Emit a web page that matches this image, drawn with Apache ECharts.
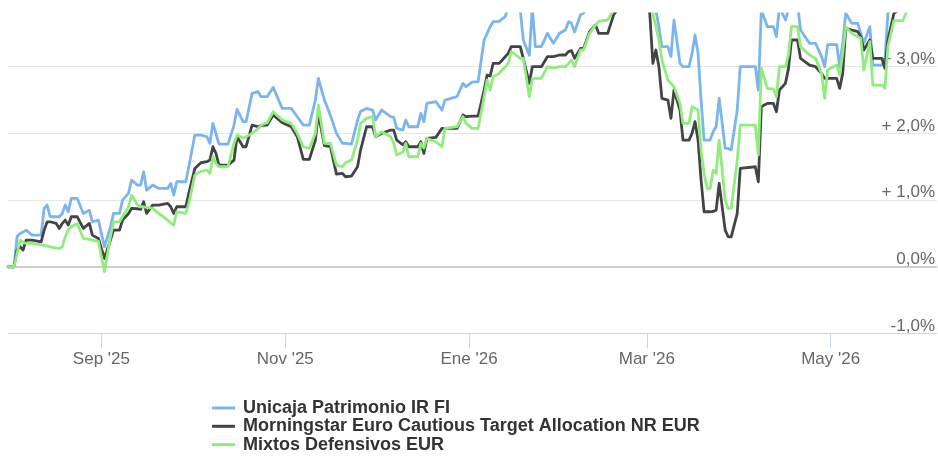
<!DOCTYPE html>
<html lang="es">
<head>
    <meta charset="UTF-8">
    <title>Unicaja Patrimonio IR FI</title>
    <script src="https://cdn.jsdelivr.net/npm/echarts@6.0.0/dist/echarts.min.js"></script>
    <style>
        html, body { margin: 0; padding: 0; background: #fff; }
        #chart { width: 938px; height: 457px; }
    </style>
</head>
<body>
    <div id="chart"></div>
    <script type="text/javascript">
        // fechas comunes a las tres series
        var dates = [
            '2025-08-01','2025-08-03','2025-08-04','2025-08-05','2025-08-06','2025-08-07','2025-08-09','2025-08-12','2025-08-13','2025-08-14',
            '2025-08-15','2025-08-17','2025-08-18','2025-08-19','2025-08-20','2025-08-21','2025-08-22','2025-08-24','2025-08-26','2025-08-28',
            '2025-08-29','2025-08-31','2025-09-02','2025-09-04','2025-09-05','2025-09-07','2025-09-08','2025-09-10','2025-09-11','2025-09-13',
            '2025-09-14','2025-09-15','2025-09-16','2025-09-18','2025-09-20','2025-09-23','2025-09-24','2025-09-25','2025-09-26','2025-09-29',
            '2025-09-30','2025-10-02','2025-10-04','2025-10-06','2025-10-07','2025-10-08','2025-10-09','2025-10-10','2025-10-13','2025-10-15',
            '2025-10-16','2025-10-18','2025-10-19','2025-10-21','2025-10-23','2025-10-24','2025-10-26','2025-10-28','2025-10-31','2025-11-03',
            '2025-11-05','2025-11-07','2025-11-09','2025-11-11','2025-11-12','2025-11-14','2025-11-16','2025-11-18','2025-11-20','2025-11-21',
            '2025-11-23','2025-11-25','2025-11-26','2025-11-28','2025-11-30','2025-12-01','2025-12-03','2025-12-06','2025-12-07','2025-12-08',
            '2025-12-10','2025-12-11','2025-12-12','2025-12-15','2025-12-16','2025-12-17','2025-12-18','2025-12-21','2025-12-23','2025-12-24',
            '2025-12-28','2025-12-30','2025-12-31','2026-01-02','2026-01-04','2026-01-06','2026-01-07','2026-01-08','2026-01-09','2026-01-11',
            '2026-01-13','2026-01-14','2026-01-15','2026-01-18','2026-01-19','2026-01-21','2026-01-22','2026-01-23','2026-01-25','2026-01-27',
            '2026-01-29','2026-01-31','2026-02-02','2026-02-03','2026-02-04','2026-02-05','2026-02-07','2026-02-08','2026-02-10','2026-02-12',
            '2026-02-13','2026-02-16','2026-02-18','2026-02-20','2026-02-23','2026-02-27','2026-03-01','2026-03-02','2026-03-03','2026-03-04',
            '2026-03-05','2026-03-06','2026-03-08','2026-03-09','2026-03-10','2026-03-12','2026-03-13','2026-03-15','2026-03-16','2026-03-17',
            '2026-03-18','2026-03-19','2026-03-20','2026-03-21','2026-03-22','2026-03-23','2026-03-24','2026-03-25','2026-03-27','2026-03-28',
            '2026-03-29','2026-03-31','2026-04-01','2026-04-06','2026-04-07','2026-04-08','2026-04-10','2026-04-12','2026-04-13','2026-04-14',
            '2026-04-16','2026-04-17','2026-04-18','2026-04-20','2026-04-21','2026-04-24','2026-04-26','2026-04-28','2026-04-29','2026-04-30',
            '2026-05-03','2026-05-04','2026-05-05','2026-05-06','2026-05-08','2026-05-10','2026-05-11','2026-05-12','2026-05-14','2026-05-15',
            '2026-05-18','2026-05-19','2026-05-20','2026-05-22','2026-05-25','2026-05-26'
        ];

        // Unicaja Patrimonio IR FI (%)
        var unicaja = [
            0, 0, 0.45, 0.5, 0.52, 0.55, 0.475, 0.475, 0.875, 0.925,
            0.75, 0.75, 0.75, 0.8, 0.925, 0.825, 1.025, 1.025, 0.8, 0.85,
            0.675, 0.7, 0.3, 0.6, 0.8, 0.8, 1.0, 1.1, 1.3, 1.225,
            1.225, 1.425, 1.15, 1.225, 1.175, 1.175, 1.25, 1.075, 1.275, 1.275,
            1.5, 1.975, 1.975, 1.95, 1.85, 2.15, 2.0, 1.84, 1.84, 2.125,
            2.36, 2.175, 2.175, 2.6, 2.625, 2.55, 2.55, 2.69, 2.375, 2.375,
            2.25, 2.125, 2.125, 2.5, 2.825, 2.5, 2.27, 2.0, 1.85, 1.85,
            1.84, 2.2, 2.33, 2.375, 2.35, 2.2, 2.35, 2.25, 2.24, 2.075,
            2.05, 2.2, 2.1, 2.1, 2.3, 2.175, 2.45, 2.475, 2.35, 2.5,
            2.55, 2.75, 2.7, 2.77, 2.775, 3.4, 3.5, 3.6, 3.675, 3.68,
            3.75, 3.9, 4.0, 3.85, 3.4, 3.17, 3.9, 3.3, 3.3, 3.5,
            3.35, 3.5, 3.55, 3.675, 3.65, 3.52, 3.78, 3.8, 3.95, 4.05,
            4.1, 4.15, 4.2, 4.3, 4.4, 4.4, 4.3, 4.1, 3.9, 3.85,
            3.6, 3.3, 3.3, 3.15, 3.7, 3.05, 3.0, 3.0, 3.2, 3.475,
            3.2, 2.5, 1.9, 1.9, 1.9, 2.025, 2.1, 2.525, 1.775, 1.775,
            1.75, 2.35, 3.0, 3.0, 2.65, 3.85, 3.6, 3.6, 3.45, 3.9,
            3.7, 3.85, 4.0, 3.95, 3.55, 3.35, 3.35, 3.15, 3.0, 3.33,
            3.33, 3.0, 3.35, 3.8, 3.65, 3.65, 3.5, 3.35, 3.6, 3.025,
            3.025, 3.1, 3.8, 4.0, 4.1, 4.15
        ];

        // Morningstar Euro Cautious Target Allocation NR EUR (%)
        var morningstar = [
            0, 0, 0.25, 0.3, 0.25, 0.4, 0.4, 0.375, 0.55, 0.675,
            0.675, 0.65, 0.575, 0.65, 0.7, 0.625, 0.75, 0.75, 0.575, 0.65,
            0.475, 0.425, 0.125, 0.4, 0.55, 0.55, 0.7, 0.8, 0.875, 0.87,
            0.86, 0.975, 0.8, 0.925, 0.925, 0.95, 0.9, 0.8, 0.9, 0.9,
            1.1, 1.475, 1.56, 1.575, 1.6, 1.8, 1.7, 1.525, 1.525, 1.6,
            1.95, 1.8, 1.8, 2.125, 2.1, 2.12, 2.125, 2.275, 2.16, 2.1,
            1.95, 1.61, 1.61, 1.9, 2.3, 1.815, 1.8, 1.39, 1.4, 1.35,
            1.36, 1.5, 1.75, 2.1, 2.1, 1.95, 2.0, 2.05, 2.05, 1.9,
            1.83, 1.875, 1.8, 1.8, 1.875, 1.7, 1.925, 1.94, 2.075, 2.075,
            2.075, 2.275, 2.25, 2.26, 2.26, 2.65, 2.875, 2.86, 3.05, 3.05,
            3.15, 3.2, 3.3, 3.3, 3.125, 2.75, 3.0, 3.0, 3.0, 3.15,
            3.15, 3.175, 3.175, 3.225, 3.24, 3.125, 3.275, 3.275, 3.525, 3.625,
            3.5, 3.5, 3.78, 3.9, 4.1, 4.2, 4.1, 3.78, 3.05, 3.25,
            3.0, 2.525, 2.5, 2.225, 2.65, 2.35, 1.9, 1.9, 2.0, 2.175,
            1.9, 1.3, 0.825, 0.825, 0.825, 0.83, 0.85, 1.25, 0.55, 0.45,
            0.45, 0.8, 1.475, 1.5, 1.275, 2.4, 2.45, 2.45, 2.325, 2.65,
            2.75, 2.975, 3.4, 3.4, 3.125, 3.025, 3.0, 2.9, 2.825, 2.825,
            2.825, 2.675, 2.9, 3.575, 3.55, 3.525, 3.45, 3.25, 3.4, 3.125,
            3.125, 2.975, 3.4, 3.8, 3.9, 3.95
        ];

        // Mixtos Defensivos EUR (%)
        var mixtos = [
            0, 0, 0.2, 0.4, 0.37, 0.35, 0.35, 0.33, 0.32, 0.31,
            0.3, 0.28, 0.275, 0.3, 0.45, 0.55, 0.6, 0.65, 0.425, 0.41,
            0.4, 0.38, -0.075, 0.45, 0.675, 0.675, 0.75, 0.9, 1.075, 0.925,
            0.9, 0.9, 0.89, 0.875, 0.8, 0.7, 0.66, 0.625, 0.825, 0.8,
            0.95, 1.375, 1.43, 1.45, 1.4, 1.65, 1.55, 1.5, 1.5, 1.85,
            1.975, 1.93, 1.95, 2.0, 2.07, 2.125, 2.16, 2.325, 2.2, 2.15,
            2.0, 1.8, 1.775, 2.0, 2.425, 1.85, 1.85, 1.525, 1.5, 1.56,
            1.6, 1.9, 2.15, 2.225, 2.25, 1.95, 2.025, 1.95, 1.85, 1.675,
            1.72, 1.85, 1.65, 1.65, 1.85, 1.78, 1.925, 1.875, 1.8, 2.075,
            2.1, 2.25, 2.15, 2.075, 2.075, 2.55, 2.8, 2.65, 2.85, 2.9,
            3.0, 3.05, 3.225, 3.125, 3.125, 2.55, 2.825, 2.825, 2.825, 3.0,
            2.98, 3.0, 3.0, 3.05, 3.1, 3.0, 3.25, 3.25, 3.5, 3.625,
            3.68, 3.7, 3.85, 3.95, 4.1, 4.15, 4.05, 3.9, 3.8, 3.6,
            3.4, 3.1, 2.8, 2.75, 2.7, 2.45, 2.15, 2.15, 2.4, 2.38,
            2.35, 1.75, 1.4, 1.175, 1.175, 1.45, 1.4, 1.9, 1.0, 0.875,
            0.875, 1.6, 2.125, 2.125, 1.675, 2.975, 2.675, 2.665, 2.55, 3.0,
            3.0, 3.175, 3.6, 3.6, 3.3, 3.175, 3.125, 2.9, 2.525, 2.95,
            3.025, 2.875, 3.2, 3.6, 3.5, 3.45, 3.425, 2.95, 3.375, 2.725,
            2.725, 2.675, 3.3, 3.69, 3.69, 3.8
        ];

        var seriesNames = ['Unicaja Patrimonio IR FI', 'Morningstar Euro Cautious Target Allocation NR EUR', 'Mixtos Defensivos EUR'];
        var seriesColors = ['#7cb5ec', '#434348', '#90ed7d'];

        // etiquetas de los ejes
        var xStart = '2025-08-01';
        var xEnd = '2026-06-05 07:00:00';
        var xTickDates = ['2025-09-01', '2025-11-01', '2026-01-01', '2026-03-01', '2026-05-01'];
        var xTickLabels = ["Sep '25", "Nov '25", "Ene '26", "Mar '26", "May '26"];
        var yTickValues = [-1, 0, 1, 2, 3];
        var yTickLabels = ['-1,0%', '0,0%', '+ 1,0%', '+ 2,0%', '+ 3,0%'];

        function toTime(d) {
            return echarts.time.parse(d).getTime();
        }
        var xTickTimes = xTickDates.map(toTime);

        function pairs(values) {
            return dates.map(function (d, i) { return [toTime(d), values[i]]; });
        }

        var allValues = [unicaja, morningstar, mixtos];
        var series = allValues.map(function (vals, i) {
            var s = {
                name: seriesNames[i],
                type: 'line',
                data: pairs(vals),
                showSymbol: false,
                symbol: 'none',
                clip: true,
                lineStyle: { color: seriesColors[i], width: 2.8, join: 'round', cap: 'round' },
                itemStyle: { color: seriesColors[i] },
                emphasis: { disabled: true },
                z: 3 + i
            };
            if (i === 0) {
                // linea del cero
                s.markLine = {
                    silent: true,
                    symbol: 'none',
                    label: { show: false },
                    lineStyle: { color: '#cccccc', width: 2, type: 'solid' },
                    data: [{ yAxis: 0 }]
                };
            }
            return s;
        });

        var myChart = echarts.init(document.getElementById('chart'));
        var option = {
            animation: false,
            textStyle: { fontFamily: '"Liberation Sans", Arial, Helvetica, sans-serif' },
            grid: { left: 8, right: 0, top: 14, bottom: 123.5, containLabel: false },
            legend: {
                data: seriesNames,
                orient: 'vertical',
                left: 212,
                top: 399,
                padding: 0,
                itemGap: 0.3,
                itemWidth: 23,
                itemHeight: 3,
                icon: 'rect',
                selectedMode: false,
                textStyle: {
                    fontSize: 18,
                    fontWeight: 'bold',
                    color: '#333333',
                    lineHeight: 18,
                    padding: [0, 0, 0, 3]
                }
            },
            xAxis: {
                type: 'value',
                min: toTime(xStart),
                max: toTime(xEnd),
                axisLine: { show: true, onZero: false, lineStyle: { color: '#ccd6eb', width: 1 } },
                axisTick: {
                    show: true,
                    customValues: xTickTimes,
                    length: 15,
                    lineStyle: { color: '#ccd6eb', width: 1 }
                },
                axisLabel: {
                    customValues: xTickTimes,
                    margin: 17,
                    fontSize: 17,
                    color: '#666666',
                    formatter: function (value) {
                        var idx = xTickTimes.indexOf(value);
                        return idx >= 0 ? xTickLabels[idx] : '';
                    }
                },
                splitLine: { show: false }
            },
            yAxis: {
                type: 'value',
                position: 'right',
                min: -1,
                max: 3.79,
                interval: 1,
                axisLine: { show: false },
                axisTick: { show: false },
                axisLabel: {
                    inside: true,
                    margin: 2,
                    fontSize: 17,
                    color: '#666666',
                    verticalAlign: 'bottom',
                    lineHeight: 15,
                    showMaxLabel: false,
                    formatter: function (value) {
                        var idx = yTickValues.indexOf(Math.round(value * 100) / 100);
                        return idx >= 0 ? yTickLabels[idx] : '';
                    }
                },
                splitLine: {
                    show: true,
                    lineStyle: {
                        color: ['#e6e6e6', '#e6e6e6', '#e6e6e6', '#e6e6e6', '#e6e6e6', 'rgba(0,0,0,0)'],
                        width: 1
                    }
                }
            },
            series: series
        };
        myChart.setOption(option);
    </script>
</body>
</html>
